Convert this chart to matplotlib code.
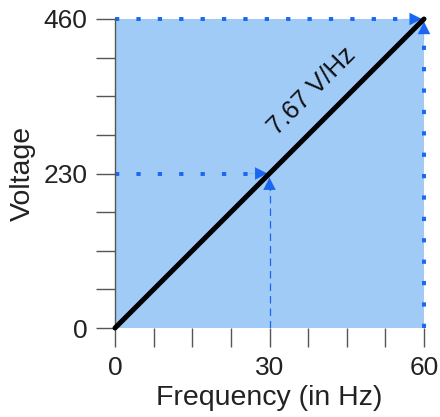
import matplotlib
matplotlib.use("Agg")
import matplotlib.pyplot as plt

plt.rcParams['font.family'] = ['Liberation Sans', 'DejaVu Sans']

# data
freq = [0, 60]
volt = [0, 460]
half_point = (30, 230)
slope_label = "7.67 V/Hz"
xticks = [0, 7.5, 15, 22.5, 30, 37.5, 45, 52.5, 60]
xticklabels = ["0", "", "", "", "30", "", "", "", "60"]
yticks = [0, 57.5, 115, 172.5, 230, 287.5, 345, 402.5, 460]
yticklabels = ["0", "", "", "", "230", "", "", "", "460"]

fill_col = "#9fcbf6"
blue = "#1a66f0"
gray = "#555555"

fig = plt.figure(figsize=(4.4, 4.17), dpi=100)
ax = fig.add_axes([115 / 440, 1 - 328 / 417, 309 / 440, 309 / 417])

ax.fill_between(freq, [0, 0], [volt[1], volt[1]], color=fill_col, lw=0, zorder=0)

dot = (0, (1.1, 4.4))
# horizontal dotted lines
ax.plot([0, freq[1] - 2], [volt[1], volt[1]], color=blue, lw=2.8, ls=dot, zorder=2, clip_on=False)
ax.plot([0, half_point[0] - 2], [half_point[1], half_point[1]], color=blue, lw=2.8, ls=dot, zorder=2)
# vertical lines
ax.plot([freq[1], freq[1]], [0, volt[1] - 16], color=blue, lw=2.8, ls=dot, zorder=2, clip_on=False)
ax.plot([half_point[0], half_point[0]], [0, half_point[1] - 16], color=blue, lw=0.9, ls=(0, (6, 4)), zorder=2)

head = dict(arrowstyle='-|>', color=blue, lw=0.1, mutation_scale=22, shrinkA=0, shrinkB=0)
ax.annotate('', xy=(freq[1] - 0.4, volt[1]), xytext=(freq[1] - 4, volt[1]), arrowprops=head, zorder=3)
ax.annotate('', xy=(half_point[0] - 0.4, half_point[1]), xytext=(half_point[0] - 4, half_point[1]), arrowprops=head, zorder=3)
ax.annotate('', xy=(freq[1], volt[1] - 4), xytext=(freq[1], volt[1] - 32), arrowprops=head, zorder=3)
ax.annotate('', xy=(half_point[0], half_point[1] - 6), xytext=(half_point[0], half_point[1] - 34), arrowprops=head, zorder=3)

# V/f line
ax.plot(freq, volt, color="black", lw=3.6, solid_capstyle='round', zorder=4, clip_on=False)
ax.text(38.2, 352, slope_label, rotation=45, ha="center", va="center", fontsize=18.5, color="#111111")

ax.set_xlim(0, 60)
ax.set_ylim(0, 460)
ax.set_xticks(xticks)
ax.set_xticklabels(xticklabels)
ax.set_yticks(yticks)
ax.set_yticklabels(yticklabels)
ax.tick_params(length=14, width=1, color=gray, labelsize=19, labelcolor="#222222", pad=6)

for s in ["top", "right", "bottom"]:
    ax.spines[s].set_visible(False)
ax.spines["left"].set_color(gray)
ax.spines["left"].set_linewidth(1)

ax.set_xlabel("Frequency (in Hz)", fontsize=20.5, color="#222222")
ax.set_ylabel("Voltage", fontsize=20.5, color="#222222")
ax.xaxis.set_label_coords(0.5, -0.185)
ax.yaxis.set_label_coords(-0.255, 0.5)

fig.savefig("out.png", dpi=100)
